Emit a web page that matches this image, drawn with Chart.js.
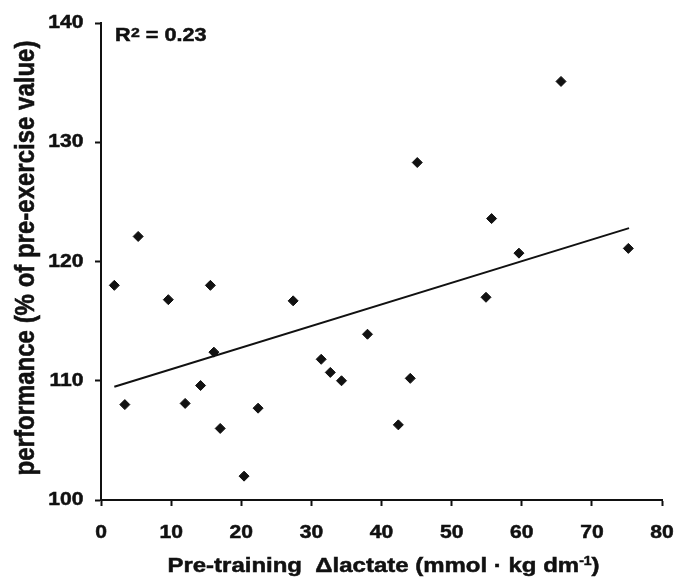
<!DOCTYPE html>
<html>
<head>
<meta charset="utf-8">
<script src="https://cdn.jsdelivr.net/npm/chart.js@4.4.1/dist/chart.umd.min.js"></script>
<style>
  body { margin: 0; background: #fff; }
</style>
</head>
<body>
<canvas id="lactate_chart" width="674" height="580"></canvas>
<script>
const lactate = [1.9, 3.4, 5.3, 9.6, 12.0, 14.2, 15.6, 16.1, 17.0, 20.4, 22.4, 27.4,
  31.4, 32.7, 34.3, 38.0, 42.4, 44.1, 45.1, 54.9, 55.7, 59.6, 65.6, 75.2];
const performance = [118.0, 108.0, 122.1, 116.8, 108.1, 109.6, 118.0, 112.4, 106.0, 102.0, 107.7, 116.7,
  111.8, 110.7, 110.0, 113.9, 106.3, 110.2, 128.3, 117.0, 123.6, 120.7, 135.1, 121.1];
const trendX = [1.9, 75.3];
const trendY = [109.5, 122.8];
const xTicks = [0, 10, 20, 30, 40, 50, 60, 70, 80];
const yTicks = [100, 110, 120, 130, 140];

const ink = "#111";
const fontFamily = "'Liberation Sans', Arial, Helvetica, sans-serif";
const stretch = 1.17; // the figure's lettering is a bit wider than plain Arial

// draw bold text stretched horizontally, returns drawn width
function wide(c, str, x, y, size, align) {
  c.font = "bold " + size + "px " + fontFamily;
  const w = c.measureText(str).width * stretch;
  let left = x;
  if (align === "right") left = x - w;
  if (align === "center") left = x - w / 2;
  c.save();
  c.translate(left, y);
  c.scale(stretch, 1);
  c.textAlign = "left";
  c.fillText(str, 0, 0);
  c.lineWidth = 0.5;
  c.strokeText(str, 0, 0);
  c.restore();
  return w;
}

const labels = {
  id: "labels",
  afterDraw(chart) {
    const c = chart.ctx;
    const xs = chart.scales.x;
    const ys = chart.scales.y;
    c.save();
    c.fillStyle = ink;
    c.strokeStyle = ink;
    c.textBaseline = "alphabetic";

    // tick labels, placed by the scales
    xs.ticks.forEach((t) => {
      wide(c, String(t.value), xs.getPixelForValue(t.value), 538, 18, "center");
    });
    ys.ticks.forEach((t) => {
      wide(c, String(t.value), 83.5, ys.getPixelForValue(t.value) + 5, 18, "right");
    });

    // R² = 0.23
    wide(c, "R", 115, 40.5, 18.5);
    const w2 = wide(c, "2", 131, 36.5, 13.5);
    wide(c, " = 0.23", 131 + w2, 40.5, 18.5);

    // x title with superscript
    c.font = "bold 20.5px " + fontFamily;
    const main = "Pre-training  \u0394lactate (mmol \u00b7 kg dm";
    const wMain = c.measureText(main).width * stretch;
    const wEnd = c.measureText(")").width * stretch;
    c.font = "bold 12px " + fontFamily;
    const wSup = c.measureText("-1").width * stretch;
    let tx = 383.5 - (wMain + wSup + wEnd) / 2;
    tx += wide(c, main, tx, 572, 20.5);
    tx += wide(c, "-1", tx, 565, 12);
    wide(c, ")", tx, 572, 20.5);

    // y title, rotated; the stretch widens letter height here
    c.translate(33.5, 258);
    c.scale(stretch, 1);
    c.rotate(-Math.PI / 2);
    c.textAlign = "center";
    c.font = "bold 24px " + fontFamily;
    c.fillText("performance (% of pre-exercise value)", 0, 0);
    c.lineWidth = 0.5;
    c.strokeText("performance (% of pre-exercise value)", 0, 0);
    c.restore();
  },
};

const ctx = document.getElementById("lactate_chart");

new Chart(ctx, {
  type: "scatter",
  data: {
    datasets: [
      {
        label: "subjects",
        data: lactate.map((v, i) => ({ x: v, y: performance[i] })),
        pointStyle: "rectRot",
        pointRadius: 5,
        borderWidth: 1,
        borderColor: ink,
        backgroundColor: ink,
      },
      {
        label: "fit",
        type: "line",
        data: trendX.map((v, i) => ({ x: v, y: trendY[i] })),
        borderColor: ink,
        borderWidth: 2,
        pointRadius: 0,
        fill: false,
      },
    ],
  },
  options: {
    responsive: false,
    animation: false,
    layout: { padding: { top: 23, right: 12, left: 0, bottom: 0 } },
    plugins: { legend: { display: false }, title: { display: false }, tooltip: { enabled: false } },
    scales: {
      x: {
        type: "linear",
        min: 0,
        max: 80,
        afterFit: (s) => { s.height = 80; },
        afterBuildTicks: (s) => { s.ticks = xTicks.map((v) => ({ value: v })); },
        grid: { drawOnChartArea: false, drawTicks: true, tickLength: 6, color: ink, tickWidth: 2 },
        border: { display: true, color: ink, width: 2 },
        ticks: { display: false },
      },
      y: {
        min: 100,
        max: 140,
        afterFit: (s) => { s.width = 101; },
        afterBuildTicks: (s) => { s.ticks = yTicks.map((v) => ({ value: v })); },
        grid: { drawOnChartArea: false, drawTicks: true, tickLength: 6, color: ink, tickWidth: 2 },
        border: { display: true, color: ink, width: 2 },
        ticks: { display: false },
      },
    },
  },
  plugins: [labels],
});
</script>
</body>
</html>
